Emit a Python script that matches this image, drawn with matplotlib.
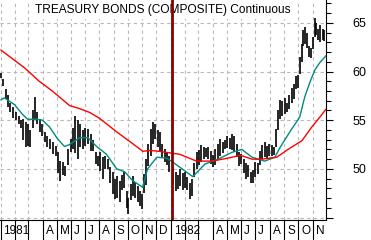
import matplotlib
matplotlib.use("Agg")
import matplotlib.pyplot as plt
import matplotlib.dates as mdates
import matplotlib.transforms as mtransforms
from matplotlib.ticker import MultipleLocator

plt.rcParams['font.family'] = ['Liberation Sans', 'DejaVu Sans']

# price bars (high / low), one line per month
bar_dates = ['1981-01-02', '1981-01-07', '1981-01-12', '1981-01-17', '1981-01-22', '1981-01-28',
             '1981-02-03', '1981-02-09', '1981-02-14', '1981-02-19', '1981-02-24',
             '1981-03-01', '1981-03-06', '1981-03-11', '1981-03-15', '1981-03-20', '1981-03-26', '1981-03-31',
             '1981-04-06', '1981-04-11', '1981-04-17', '1981-04-23', '1981-04-29',
             '1981-05-04', '1981-05-09', '1981-05-14', '1981-05-20', '1981-05-26', '1981-05-31',
             '1981-06-05', '1981-06-10', '1981-06-15', '1981-06-21', '1981-06-27',
             '1981-07-02', '1981-07-08', '1981-07-13', '1981-07-19', '1981-07-24', '1981-07-29',
             '1981-08-03', '1981-08-08', '1981-08-13', '1981-08-19', '1981-08-24', '1981-08-29',
             '1981-09-03', '1981-09-08', '1981-09-13', '1981-09-18', '1981-09-23', '1981-09-28',
             '1981-10-02', '1981-10-07', '1981-10-12', '1981-10-17', '1981-10-22', '1981-10-27',
             '1981-11-01', '1981-11-05', '1981-11-09', '1981-11-14', '1981-11-19', '1981-11-24', '1981-11-29',
             '1981-12-04', '1981-12-09', '1981-12-14', '1981-12-19', '1981-12-24', '1981-12-29',
             '1982-01-06', '1982-01-11', '1982-01-16', '1982-01-21', '1982-01-26', '1982-01-31',
             '1982-02-05', '1982-02-10', '1982-02-15', '1982-02-20', '1982-02-25',
             '1982-03-02', '1982-03-07', '1982-03-12', '1982-03-17', '1982-03-22', '1982-03-27',
             '1982-04-01', '1982-04-06', '1982-04-12', '1982-04-17', '1982-04-22', '1982-04-27',
             '1982-05-02', '1982-05-07', '1982-05-12', '1982-05-17', '1982-05-22', '1982-05-27',
             '1982-06-01', '1982-06-06', '1982-06-11', '1982-06-16', '1982-06-21', '1982-06-26',
             '1982-07-01', '1982-07-06', '1982-07-11', '1982-07-16', '1982-07-21', '1982-07-26', '1982-07-31',
             '1982-08-05', '1982-08-10', '1982-08-15', '1982-08-19', '1982-08-23', '1982-08-28',
             '1982-09-02', '1982-09-07', '1982-09-12', '1982-09-17', '1982-09-22', '1982-09-27',
             '1982-10-01', '1982-10-05', '1982-10-08', '1982-10-12', '1982-10-16', '1982-10-20', '1982-10-24', '1982-10-28',
             '1982-11-02', '1982-11-05', '1982-11-09', '1982-11-13', '1982-11-17', '1982-11-22', '1982-11-26']
bar_high = [59.9, 59.2, 58.2, 57.6, 56.8, 56.4,
            55.8, 55.4, 55.0, 55.1, 54.8,
            54.6, 54.0, 56.0, 57.4, 55.8, 55.1, 54.6,
            53.8, 53.4, 53.1, 52.8, 52.4,
            51.7, 50.8, 50.7, 50.3, 52.0, 53.1,
            54.2, 55.4, 55.0, 54.6, 54.0,
            54.2, 54.1, 53.6, 53.0, 51.7, 51.3,
            51.7, 51.2, 51.3, 51.0, 50.2, 49.7,
            49.0, 49.3, 48.8, 49.4, 49.8, 47.7,
            47.0, 48.4, 49.3, 48.7, 48.2, 47.7,
            47.4, 49.5, 51.0, 52.6, 54.1, 54.8, 54.6,
            54.0, 53.8, 52.6, 52.0, 51.6, 51.3,
            50.2, 49.7, 49.4, 50.0, 49.6, 49.7,
            49.2, 48.6, 49.0, 50.6, 51.7,
            51.9, 52.5, 52.3, 52.1, 52.3, 51.8,
            51.4, 52.0, 52.6, 53.1, 52.8, 53.0,
            53.4, 53.2, 53.6, 53.4, 52.6, 51.7,
            51.5, 51.0, 50.6, 50.4, 49.7, 49.9,
            50.7, 50.6, 51.8, 52.5, 52.8, 52.4, 52.6,
            52.5, 52.2, 54.1, 56.0, 57.1, 57.0,
            57.3, 56.8, 57.6, 58.3, 58.7, 59.5,
            59.6, 61.5, 62.8, 64.3, 64.6, 64.0, 62.6, 62.4,
            63.5, 65.5, 65.0, 64.4, 64.8, 64.4, 64.3]
bar_low = [59.3, 58.5, 57.2, 56.4, 55.8, 55.2,
           55.0, 54.6, 54.2, 53.0, 52.3,
           52.4, 52.2, 54.2, 55.0, 54.6, 53.8, 53.4,
           52.8, 52.3, 52.0, 51.5, 51.3,
           49.6, 48.8, 49.4, 49.3, 50.4, 51.7,
           52.0, 51.6, 51.0, 52.3, 52.0,
           52.4, 52.6, 51.8, 51.8, 50.5, 50.3,
           49.8, 49.0, 50.0, 50.0, 48.6, 47.4,
           46.9, 47.0, 46.6, 47.8, 48.0, 46.0,
           45.4, 46.8, 47.2, 47.0, 46.6, 46.2,
           45.9, 47.5, 48.3, 50.3, 51.3, 52.6, 53.1,
           52.2, 51.7, 51.2, 50.7, 50.4, 49.7,
           48.4, 47.7, 47.9, 48.2, 47.8, 48.0,
           47.8, 46.9, 47.2, 49.2, 50.0,
           50.4, 50.7, 51.0, 51.2, 51.0, 50.5,
           50.2, 50.4, 51.0, 51.3, 51.6, 52.0,
           52.1, 52.0, 51.9, 51.7, 51.2, 50.3,
           50.5, 49.6, 49.0, 49.2, 48.5, 48.6,
           49.2, 49.5, 50.4, 51.0, 51.2, 51.0, 51.3,
           51.3, 51.4, 52.3, 54.0, 55.1, 55.4,
           55.6, 55.8, 56.2, 56.8, 57.2, 58.2,
           58.3, 59.7, 61.0, 62.6, 62.8, 62.4, 61.5, 61.4,
           62.3, 63.6, 63.8, 63.2, 63.0, 63.2, 63.1]

# short moving average (teal)
short_dates = ['1981-01-02', '1981-01-09', '1981-01-31', '1981-02-17', '1981-02-28', '1981-03-19',
               '1981-04-01', '1981-04-16', '1981-05-03', '1981-05-18', '1981-05-29', '1981-06-19',
               '1981-07-07', '1981-07-26', '1981-08-16', '1981-09-07', '1981-09-24', '1981-10-11',
               '1981-11-02', '1981-11-12', '1981-12-02', '1981-12-23', '1982-01-05', '1982-01-31',
               '1982-02-17', '1982-03-15', '1982-04-12', '1982-05-12', '1982-06-02', '1982-06-24',
               '1982-07-21', '1982-08-12', '1982-08-23', '1982-09-17', '1982-10-04', '1982-10-15',
               '1982-10-26', '1982-11-06', '1982-11-16', '1982-11-29']
short_ma = [57.1, 57.3, 56.6, 55.6, 55.1, 55.1, 55.0, 54.3, 53.1, 52.3, 52.5, 53.2,
            53.2, 52.3, 51.5, 50.0, 49.7, 48.8, 48.1, 50.0, 51.2, 51.1, 50.7, 49.8,
            49.2, 50.5, 51.0, 51.7, 52.0, 51.2, 50.8, 51.2, 52.2, 54.1, 55.3, 57.4,
            58.9, 60.2, 60.9, 61.6]

# long moving average (red)
long_dates = ['1981-01-02', '1981-02-21', '1981-03-25', '1981-04-22', '1981-05-29', '1981-06-19',
              '1981-07-11', '1981-08-01', '1981-09-07', '1981-10-11', '1981-11-02', '1981-11-17',
              '1981-12-08', '1982-01-20', '1982-02-25', '1982-03-30', '1982-05-03', '1982-05-30',
              '1982-06-24', '1982-07-15', '1982-08-16', '1982-09-09', '1982-10-09', '1982-10-30',
              '1982-11-16', '1982-11-29']
long_ma = [62.2, 60.4, 59.0, 58.0, 56.5, 56.2, 55.8, 55.2, 53.8, 52.6, 51.8, 51.9,
           51.8, 51.5, 50.8, 50.8, 51.1, 51.4, 51.0, 51.0, 51.2, 52.0, 52.9, 54.3,
           55.3, 56.1]

month_starts = ['1981-01-01', '1981-02-01', '1981-03-01', '1981-04-01', '1981-05-01', '1981-06-01',
                '1981-07-01', '1981-08-01', '1981-09-01', '1981-10-01', '1981-11-01', '1981-12-01',
                '1982-01-01', '1982-02-01', '1982-03-01', '1982-04-01', '1982-05-01', '1982-06-01',
                '1982-07-01', '1982-08-01', '1982-09-01', '1982-10-01', '1982-11-01']
month_labels = ['1981', '', '', 'A', 'M', 'J', 'J', 'A', 'S', 'O', 'N', 'D',
                '1982', '', '', 'A', 'M', 'J', 'J', 'A', 'S', 'O', 'N']
y_ticks = [45, 50, 55, 60, 65]
y_labels = ['', '50', '55', '60', '65']
marker_date = '1982-01-04'
title = 'TREASURY BONDS (COMPOSITE) Continuous'

fig = plt.figure(figsize=(3.71, 2.40), dpi=100)
ax = fig.add_axes([0, 20 / 240, 326 / 371, 220 / 240])

ax.vlines(mdates.datestr2num(bar_dates), bar_low, bar_high, color='black', lw=1.2, zorder=3)
ax.plot(mdates.datestr2num(short_dates), short_ma, color='#008b80', lw=1, zorder=4)
ax.plot(mdates.datestr2num(long_dates), long_ma, color='#ff0000', lw=1, zorder=4)
ax.axvline(mdates.datestr2num(marker_date), color='#8b0000', lw=2, zorder=6)

ax.set_xlim(mdates.datestr2num('1980-12-30 20:00'), mdates.datestr2num('1982-11-29 12:00'))
ax.set_ylim(44.75, 67.35)

xt = mdates.datestr2num(month_starts)
ax.set_xticks(xt)
ax.set_xticklabels([''] * len(xt))
ax.tick_params(axis='x', length=14.4, width=0.8, color='black', direction='out')

ax.yaxis.tick_right()
ax.set_yticks(y_ticks)
ax.set_yticklabels(y_labels)
ax.yaxis.set_minor_locator(MultipleLocator(1))
ax.tick_params(axis='y', which='major', length=5, width=0.8, pad=14, labelsize=9)
ax.tick_params(axis='y', which='minor', length=3.5, width=0.8)

ax.grid(True, which='major', ls=(0, (3, 3)), color='#b8b8b8', lw=0.8)
for s in ['left', 'top']:
    ax.spines[s].set_visible(False)

# month labels sit just right of each separator
trans = mtransforms.blended_transform_factory(ax.transData, ax.transAxes)
trans = mtransforms.offset_copy(trans, fig=fig, x=3, y=-10.5, units='dots')
for d, lab in zip(xt, month_labels):
    if lab:
        ax.text(d, 0, lab, transform=trans, ha='left', va='center', fontsize=8.5, clip_on=False)

ax.text(35 / 326, 1 - 10 / 220, title, transform=ax.transAxes, ha='left', va='center',
        fontsize=8.6, zorder=5, bbox=dict(fc='white', ec='none', pad=2))

fig.savefig('out.png', dpi=100)
